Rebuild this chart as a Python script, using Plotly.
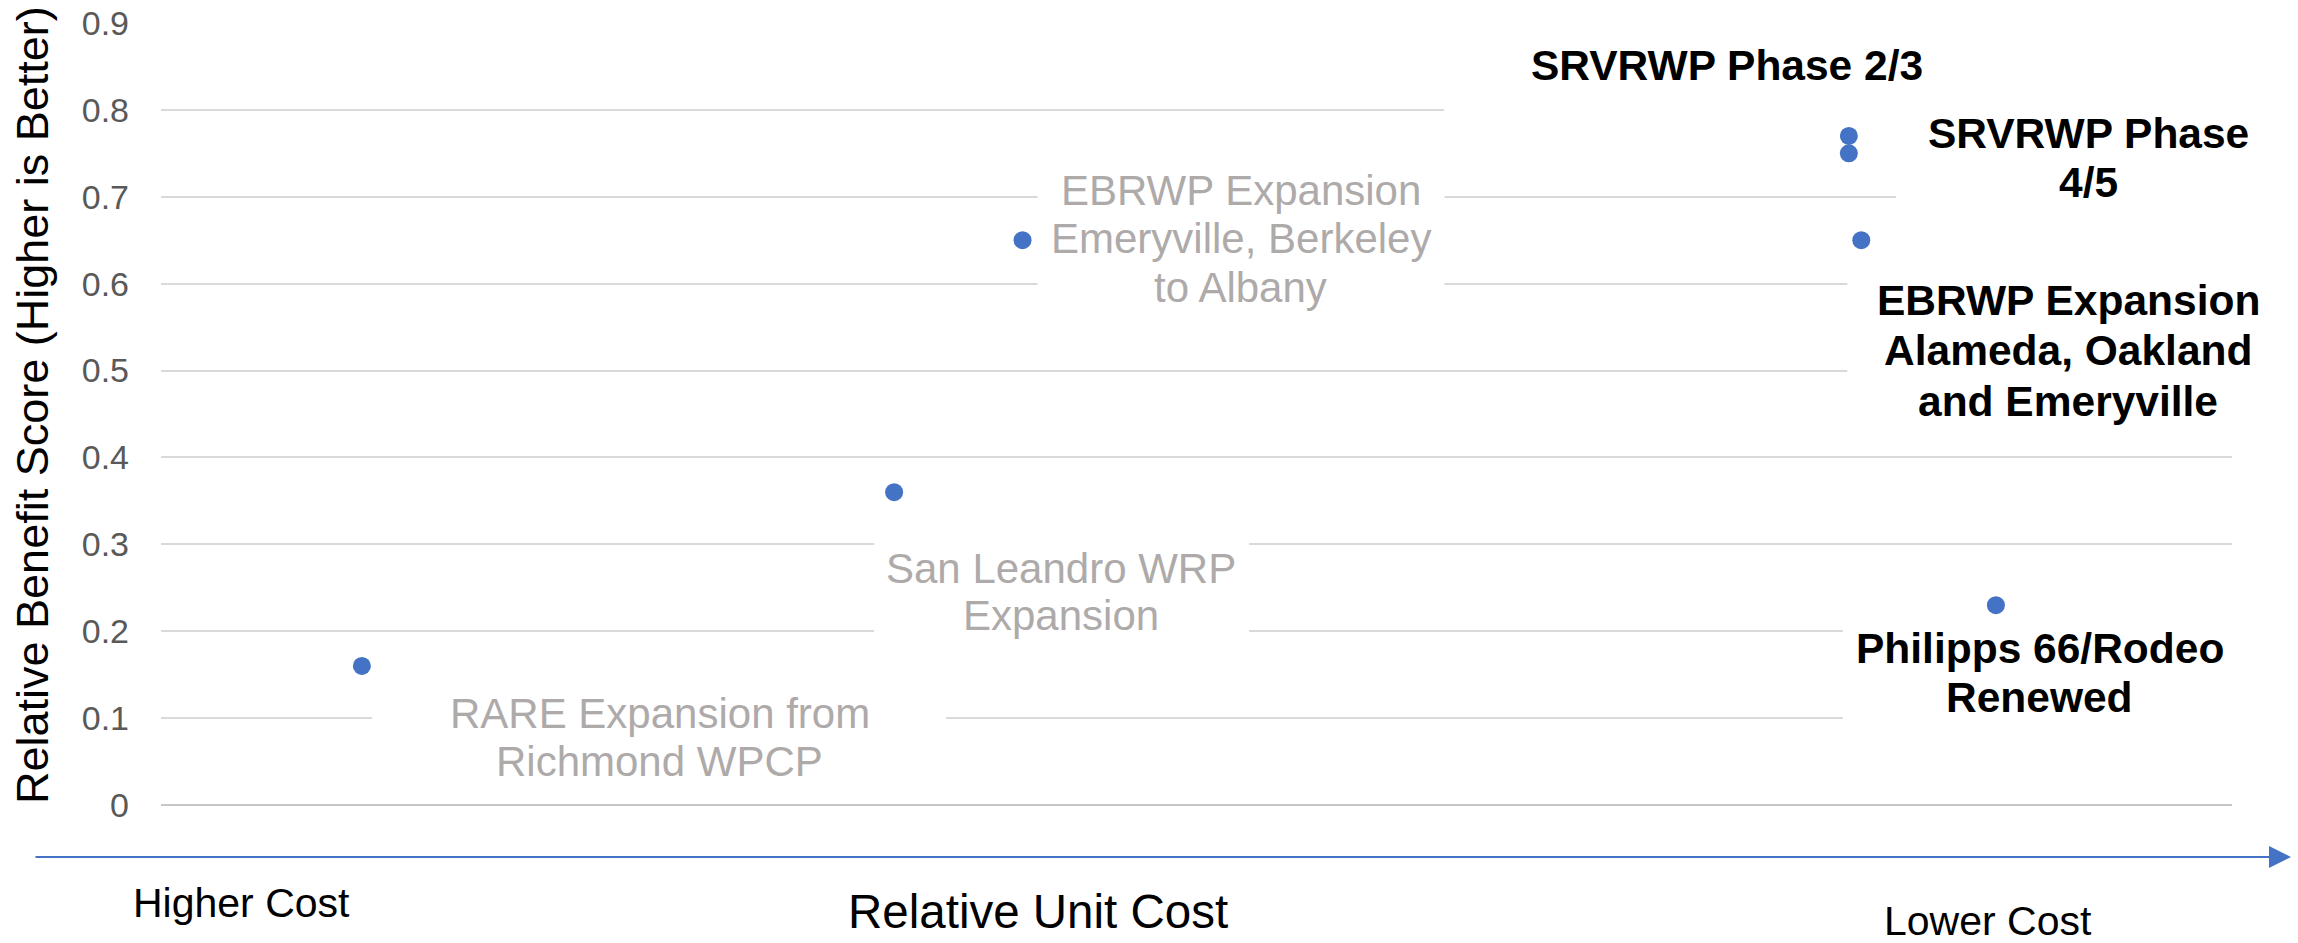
import plotly.graph_objects as go

# ---------------- data ----------------
project_lines = [
    ["RARE Expansion from", "Richmond WPCP"],
    ["San Leandro WRP", "Expansion"],
    ["EBRWP Expansion", "Emeryville, Berkeley", "to Albany"],
    ["SRVRWP Phase 2/3"],
    ["SRVRWP Phase", "4/5"],
    ["EBRWP Expansion", "Alameda, Oakland", "and Emeryville"],
    ["Philipps 66/Rodeo", "Renewed"],
]
relative_unit_cost = [0.097, 0.354, 0.416, 0.815, 0.815, 0.821, 0.886]   # left = higher cost, right = lower cost
relative_benefit = [0.16, 0.36, 0.65, 0.77, 0.75, 0.65, 0.23]
highlighted = [False, False, False, True, True, True, True]

y_ticks = [0, 0.1, 0.2, 0.3, 0.4, 0.5, 0.6, 0.7, 0.8, 0.9]

# ---------------- layout constants ----------------
W, H = 2298, 943
L, R, T, B = 161, 66, 23, 138
PW, PH = W - L - R, H - T - B
FONT = "Liberation Sans, Arial, sans-serif"
BLUE = "#4472C4"
GRAY_TXT = "#AEAAAA"


def px_x(px):
    return (px - L) / PW


def px_y(py):
    return (H - B - py) / PH


# label placement relative to its point, in screen pixels (+x right, +y down):
# (text dx, first-line dy, line pitch, box x0, box x1, box y0, box y1)
label_layout = [
    (298, 48, 48, 10, 584, 14, 134),
    (167, 76, 47, -20, 355, 13, 188),
    (218, -50, 48.5, 15, 422, -101, 99),
    (-122, -70, 0, -405, 162, -123, -19),
    (240, -20, 49, 47, 391, -114, 114),
    (207, 60, 50.5, -14, 399, 11, 209),
    (44, 43, 49, -153, 240, 12, 130),
]

fig = go.Figure()
fig.add_trace(go.Scatter(
    x=relative_unit_cost, y=relative_benefit, mode="markers",
    marker=dict(color=BLUE, size=18),
    hoverinfo="skip", showlegend=False, cliponaxis=False,
))

shapes = []
annotations = []
for lines, xv, yv, hl, (tdx, tdy, pitch, bx0, bx1, by0, by1) in zip(
        project_lines, relative_unit_cost, relative_benefit, highlighted, label_layout):
    # white label box that interrupts the gridlines (drawn between gridlines and markers)
    shapes.append(dict(
        type="rect", layer="between",
        xref="x", yref="y", xsizemode="pixel", ysizemode="pixel",
        xanchor=xv, yanchor=yv, x0=bx0, x1=bx1, y0=-by0, y1=-by1,
        fillcolor="white", line=dict(width=0),
    ))
    for i, line in enumerate(lines):
        annotations.append(dict(
            x=xv, y=yv, xref="x", yref="y",
            text=(f"<b>{line}</b>" if hl else line),
            showarrow=False, xshift=tdx, yshift=-(tdy + i * pitch),
            xanchor="center", yanchor="middle",
            font=dict(family=FONT, size=42.5 if hl else 42,
                      color="black" if hl else GRAY_TXT),
        ))

# axis captions
annotations += [
    dict(x=px_x(241), y=px_y(903), xref="paper", yref="paper", text="Higher Cost",
         xanchor="center", yanchor="middle",
         showarrow=False, font=dict(family=FONT, size=41, color="black")),
    dict(x=px_x(1038), y=px_y(911), xref="paper", yref="paper", text="Relative Unit Cost",
         xanchor="center", yanchor="middle",
         showarrow=False, font=dict(family=FONT, size=47.5, color="black")),
    dict(x=px_x(1988), y=px_y(921), xref="paper", yref="paper", text="Lower Cost",
         xanchor="center", yanchor="middle",
         showarrow=False, font=dict(family=FONT, size=41, color="black")),
    dict(x=px_x(32), y=px_y(405), xref="paper", yref="paper",
         text="Relative Benefit Score (Higher is Better)", textangle=-90,
         xanchor="center", yanchor="middle",
         showarrow=False, font=dict(family=FONT, size=45, color="black")),
    # cost arrow
    dict(x=px_x(2291), y=px_y(857), ax=-(2291 - 34), ay=0,
         xref="paper", yref="paper", axref="pixel", ayref="pixel", text="",
         showarrow=True, arrowhead=2, arrowsize=2.2, arrowwidth=2, arrowcolor=BLUE),
]

fig.update_layout(
    width=W, height=H,
    margin=dict(l=L, r=R, t=T, b=B, pad=0, autoexpand=False),
    paper_bgcolor="white", plot_bgcolor="white",
    xaxis=dict(range=[0, 1], visible=False, fixedrange=True),
    yaxis=dict(range=[0, 0.9], tickvals=y_ticks, ticktext=[f"{v:g}" for v in y_ticks],
               showgrid=True, gridcolor="#D9D9D9", gridwidth=2,
               zeroline=True, zerolinecolor="#C6C6C6", zerolinewidth=2,
               showline=False, ticks="", ticklabelstandoff=31, automargin=False,
               tickfont=dict(family=FONT, size=34, color="#595959"), fixedrange=True),
    shapes=shapes,
    annotations=annotations,
    showlegend=False,
)

fig.write_html(
    "out.html",
    config={"displayModeBar": False},
    post_script="document.body.style.margin='0';document.body.style.overflow='hidden';",
)
